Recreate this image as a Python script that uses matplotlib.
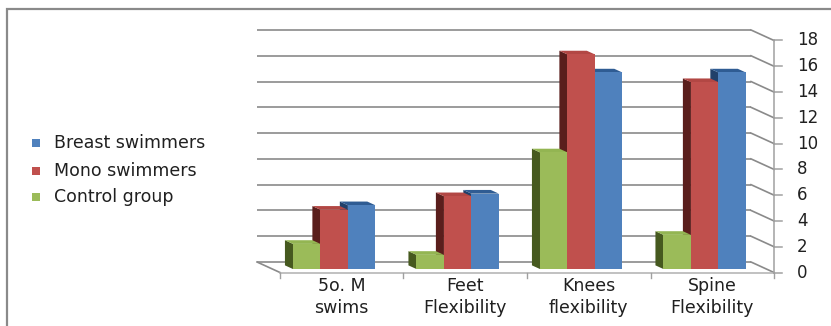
import matplotlib
matplotlib.use("Agg")
import matplotlib.pyplot as plt
from matplotlib.patches import Polygon, Rectangle

# ---- data -------------------------------------------------------------
categories = ["5o. M\nswims", "Feet\nFlexibility", "Knees\nflexibility", "Spine\nFlexibility"]
series_names = ["Control group", "Mono swimmers", "Breast swimmers"]
control_group = [1.95, 1.1, 9.05, 2.65]
mono_swimmers = [4.6, 5.65, 16.65, 14.5]
breast_swimmers = [4.95, 5.85, 15.25, 15.25]
y_ticks = [0, 2, 4, 6, 8, 10, 12, 14, 16, 18]

series_values = [control_group, mono_swimmers, breast_swimmers]
front_colors = ["#9BBB59", "#C0504D", "#4F81BD"]
side_colors = ["#46591F", "#5A1E1C", "#21406A"]
top_colors = ["#93B552", "#B24744", "#2F5C93"]

# ---- layout (pixels) --------------------------------------------------
W, H = 831, 326
PX_X0, PX_PER_CAT = 257.0, 123.5      # back wall: left edge, width of one category
PX_Y0, PX_PER_UNIT = 262.0, 12.89     # back wall: baseline, pixels per value unit
DEPTH_PX = (23.0, 10.5)               # back wall -> front edge offset

fig = plt.figure(figsize=(W / 100, H / 100), dpi=100)
ax = fig.add_axes([0, 0, 1, 1])
ax.set_xlim(-PX_X0 / PX_PER_CAT, (W - PX_X0) / PX_PER_CAT)
ax.set_ylim((PX_Y0 - H) / PX_PER_UNIT, PX_Y0 / PX_PER_UNIT)
ax.axis("off")

DX = DEPTH_PX[0] / PX_PER_CAT
DY = -DEPTH_PX[1] / PX_PER_UNIT
n_cat = len(categories)
ymax = y_ticks[-1]

FONT = ["DejaVu Sans"]
TEXT_COLOR = "#202020"
grid_color = "#8A8A8A"

# back wall gridlines and right side wall
for v in y_ticks:
    ax.plot([0, n_cat], [v, v], color=grid_color, lw=1.2, zorder=1, solid_capstyle="butt")
    ax.plot([n_cat, n_cat + DX], [v, v + DY], color=grid_color, lw=1.2, zorder=1)

# floor
ax.plot([0, DX], [0, DY], color=grid_color, lw=1.2, zorder=1)
ax.plot([DX, n_cat + DX], [DY, DY], color="#B0B0B0", lw=1.1, zorder=1)
tick_len = 5 / PX_PER_UNIT
for i in range(n_cat + 1):
    ax.plot([i + DX, i + DX], [DY, DY - tick_len], color="#A0A0A0", lw=1.0, zorder=1)

# right value axis
ax.plot([n_cat + DX, n_cat + DX], [DY, ymax + DY], color="#A0A0A0", lw=1.1, zorder=1)
tick_w = 8 / PX_PER_CAT
for v in y_ticks:
    ax.plot([n_cat + DX, n_cat + DX + tick_w], [v + DY, v + DY], color="#A0A0A0", lw=1.1, zorder=1)
    ax.text(n_cat + DX + 23 / PX_PER_CAT, v + DY, str(v), ha="left", va="center",
            fontsize=12, family=FONT, color=TEXT_COLOR)

# category labels on the front edge
for i, lab in enumerate(categories):
    ax.text(i + 0.5 + DX, DY - 24.5 / PX_PER_UNIT, lab, ha="center", va="center",
            fontsize=12.5, family=FONT, color=TEXT_COLOR, linespacing=1.35)

# 3-D columns (gap width 150 %)
bar_w = 1 / 4.5
pad = (1 - 3 * bar_w) / 2
f_front, f_back = 0.67, 0.32
for j in reversed(range(len(series_values))):
    vals = series_values[j]
    z = 3 + (2 - j)
    lefts = [i + pad + j * bar_w for i in range(n_cat)]
    for xl, v in zip(lefts, vals):
        fx, fy = xl + f_front * DX, f_front * DY
        bx, by = xl + f_back * DX, f_back * DY
        side = Polygon([(fx, fy), (fx, v + fy), (bx, v + by), (bx, by)], closed=True,
                       facecolor=side_colors[j], edgecolor="none", zorder=z)
        top = Polygon([(fx, v + fy), (fx + bar_w, v + fy), (bx + bar_w, v + by), (bx, v + by)],
                      closed=True, facecolor=top_colors[j], edgecolor="none", zorder=z + 0.1)
        ax.add_patch(side)
        ax.add_patch(top)
    ax.bar([xl + f_front * DX for xl in lefts], vals, width=bar_w, bottom=f_front * DY,
           align="edge", color=front_colors[j], edgecolor="none", zorder=z + 0.2)

# legend (Breast, Mono, Control from top)
leg_rows_px = [142.7, 170.5, 197.0]
for row, j in zip(leg_rows_px, reversed(range(len(series_names)))):
    fig.add_artist(Rectangle((32 / W, 1 - (row + 4) / H), 8 / W, 8 / H,
                             transform=fig.transFigure, facecolor=front_colors[j],
                             edgecolor="none"))
    fig.text(54 / W, 1 - row / H, series_names[j], ha="left", va="center",
             fontsize=12.5, family=FONT, color=TEXT_COLOR)

# chart border
fig.add_artist(Rectangle((7 / W, -0.1), 1.2, 1 - 9 / H + 0.1, transform=fig.transFigure,
                         facecolor="none", edgecolor="#8A8A8A", lw=1.6))

fig.savefig("out.png", dpi=100, facecolor="white")
